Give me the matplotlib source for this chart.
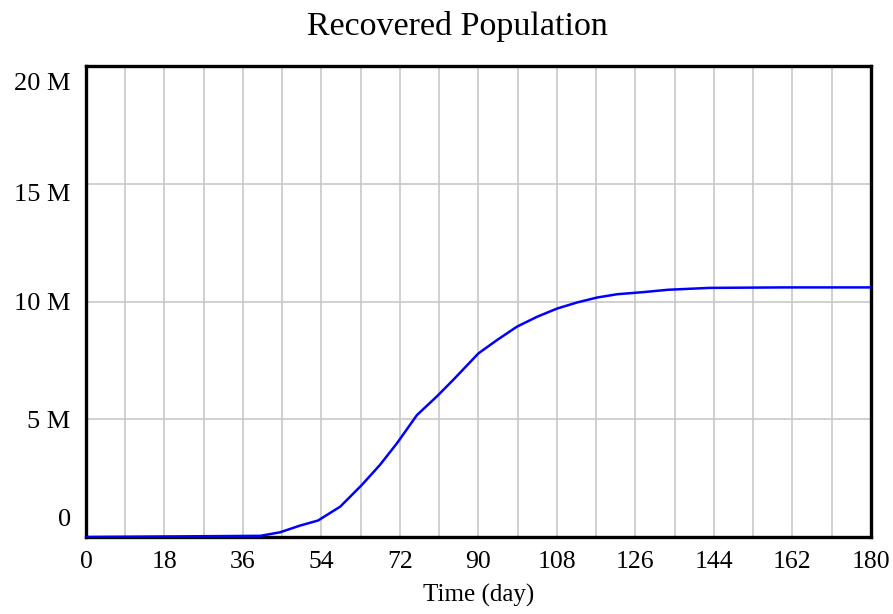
import numpy as np
import matplotlib.pyplot as plt
from matplotlib.transforms import ScaledTranslation

# Recovered population (millions)
days = [0, 40, 44.5, 49, 53.2, 58.3, 63.2, 67.4, 71.3, 75.9, 80.4, 84.2, 90,
        94.3, 98.8, 103.4, 108, 112.6, 117.2, 121.8, 127.8, 133.5, 143, 160, 180]
recovered = [0, 0.05, 0.2, 0.48, 0.7, 1.29, 2.2, 3.06, 3.98, 5.18, 5.96, 6.67, 7.8,
             8.37, 8.93, 9.35, 9.7, 9.96, 10.17, 10.31, 10.4, 10.5, 10.58, 10.6, 10.6]

x_ticks = list(range(0, 181, 18))
y_ticks = [0, 5, 10, 15, 20]
y_tick_labels = ["0", "5 M", "10 M", "15 M", "20 M"]
# Vensim nudges the end labels inward (points)
y_label_shift = [14, 0, 0, -6, -11]

plt.rcParams['font.family'] = ['Liberation Serif', 'DejaVu Serif']

fig = plt.figure(figsize=(8.93, 6.14), dpi=100)
ax = fig.add_axes([0.0963, 0.1254, 0.879, 0.767])

ax.plot(days, recovered, color='#0000ff', linewidth=1.8, zorder=3)

ax.set_xlim(0, 180)
ax.set_ylim(0, 20)
ax.set_xticks(x_ticks)
ax.set_xticks(np.arange(0, 181, 9), minor=True)
ax.set_yticks(y_ticks)
ax.set_yticklabels(y_tick_labels)

ax.grid(True, which='both', axis='x', color='#c8c8c8', linewidth=1.2)
ax.grid(True, which='major', axis='y', color='#c8c8c8', linewidth=1.2)
ax.set_axisbelow(True)

ax.tick_params(which='both', length=0)
ax.tick_params(axis='x', labelsize=18.5, pad=10)
ax.tick_params(axis='y', labelsize=19, pad=11)

for lab, dy in zip(ax.get_yticklabels(), y_label_shift):
    lab.set_transform(lab.get_transform() + ScaledTranslation(0, dy / 72, fig.dpi_scale_trans))

for sp in ax.spines.values():
    sp.set_linewidth(2.4)
    sp.set_color('black')

ax.set_xlabel('Time (day)', fontsize=18, labelpad=8)
fig.text(457 / 893, 1 - 27 / 614, 'Recovered Population', fontsize=24.5,
         ha='center', va='center')

fig.savefig('out.png', dpi=100)
